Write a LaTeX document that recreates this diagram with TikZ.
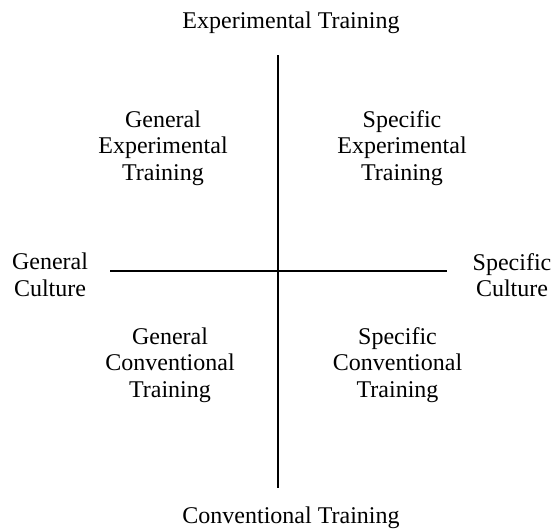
\documentclass[tikz,border=0pt]{standalone}
\usepackage{fontspec}
\setmainfont{Liberation Serif}
\usepackage{tikz}
\usetikzlibrary{positioning}
\tikzset{
    rotulo/.style={
        align=center,
        inner sep=0pt,
        font=\fontsize{24}{26.5}\selectfont
    },
    eixo/.style={line width=1.8pt}
}

\begin{document}
\begin{tikzpicture}[x=1pt, y=-1pt]
        \useasboundingbox (0,0) rectangle (551,528);

        % eixos
        \coordinate (topo) at (278,55);
        \coordinate (base) at (278,488);
        \coordinate (esq) at (110,271);
        \coordinate (dir) at (447,271);
        \draw[eixo] (topo) -- (base);
        \draw[eixo] (esq) -- (dir);

        % extremos
        \node[rotulo] (experimental) at (291,22.5)
        {Experimental Training};

        \node[rotulo] (convencional) at (291,517.5)
        {Conventional Training};

        \node[rotulo] (geral) at (50,275)
        {General\\ Culture};

        \node[rotulo] (especifica) at (512,275)
        {Specific\\ Culture};

        % quadrantes
        \node[rotulo] (geralExp) at (163,148)
        {General\\ Experimental\\ Training};

        \node[rotulo] (especExp) at (402,148)
        {Specific\\ Experimental\\ Training};

        \node[rotulo] (geralConv) at (170,365)
        {General\\ Conventional\\ Training};

        \node[rotulo] (especConv) at (397.5,365)
        {Specific\\ Conventional\\ Training};

    \end{tikzpicture}
\end{document}
